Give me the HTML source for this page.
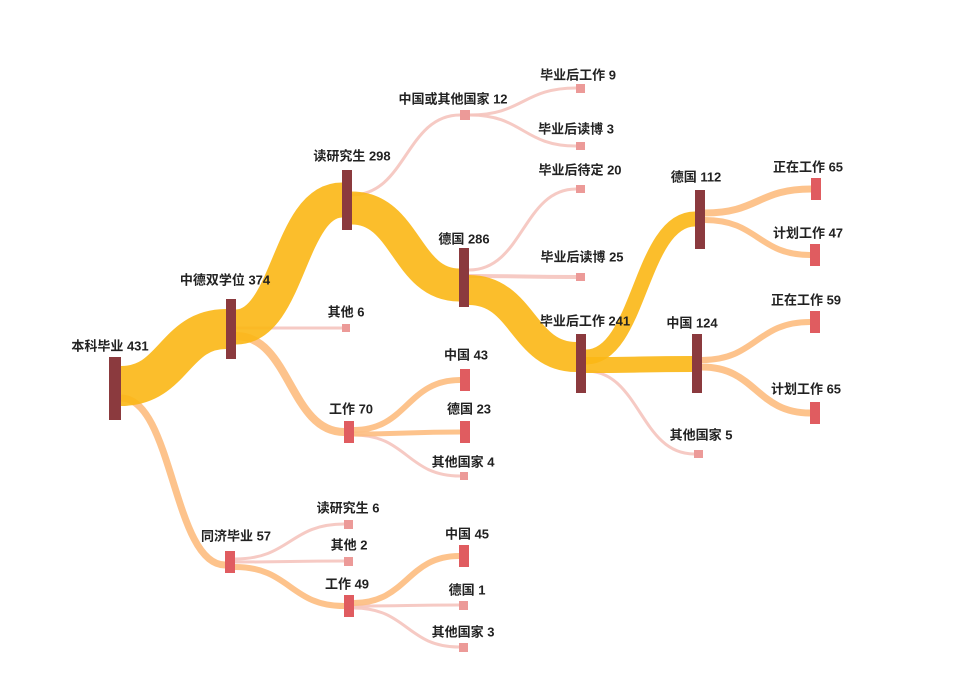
<!DOCTYPE html>
<html><head><meta charset="utf-8"><style>
html,body{margin:0;padding:0;background:#fff;}
svg{display:block;}
text{font-family:"Liberation Sans","Noto Sans CJK SC",sans-serif;font-size:13px;font-weight:bold;fill:#222;text-anchor:middle;dominant-baseline:middle;}
</style></head><body>
<svg width="953" height="691" viewBox="0 0 953 691" xmlns="http://www.w3.org/2000/svg">
<g fill="none" stroke-opacity="0.9">
<!-- pink links -->
<g stroke="#f5c4be" stroke-width="3">
<path d="M236,328 C289,328 289,328 342,328"/>
<path d="M352,195 C406,195 406,115 460,115"/>
<path d="M470,115 C523,115 523,88 576,88"/>
<path d="M470,115 C523,115 523,146 576,146"/>
<path d="M469,270 C523,270 523,189 576,189"/>
<path d="M469,276 C523,276 523,277 576,277" stroke-width="4"/>
<path d="M586,371 C640,371 640,454 694,454"/>
<path d="M354,435 C407,435 407,476 460,476"/>
<path d="M235,559 C290,559 290,524 344,524"/>
<path d="M235,562 C290,562 290,561 344,561"/>
<path d="M354,606 C407,606 407,605 459,605"/>
<path d="M354,608 C407,608 407,647 459,647"/>
</g>
<!-- orange links -->
<g stroke="#fdbd80" stroke-width="7">
<path d="M121,398 C173,398 173,565 225,565"/>
<path d="M236,336 C290,336 290,432 344,432" stroke-width="8"/>
<path d="M354,430 C407,430 407,380 460,380" stroke-width="6"/>
<path d="M354,434 C407,434 407,432 460,432" stroke-width="5"/>
<path d="M235,567 C290,567 290,606 344,606" stroke-width="6"/>
<path d="M354,603 C407,603 407,556 459,556" stroke-width="6"/>
<path d="M705,213 C758,213 758,189 811,189"/>
<path d="M705,220 C758,220 758,255 810,255" stroke-width="6"/>
<path d="M702,360 C756,360 756,322 810,322" stroke-width="6"/>
<path d="M702,367 C756,367 756,413 810,413"/>
</g>
<!-- yellow links -->
<g stroke="#fbb715">
<path d="M121,386 C174,386 174,329 226,329" stroke-width="40"/>
<path d="M236,327 C289,327 289,200 342,200" stroke-width="35"/>
<path d="M352,208 C406,208 406,285 459,285" stroke-width="33"/>
<path d="M469,290 C523,290 523,357 576,357" stroke-width="30"/>
<path d="M586,357 C640,357 640,219 695,219" stroke-width="15"/>
<path d="M586,365 C640,365 640,364 692,364" stroke-width="16"/>
</g>
</g>
<!-- nodes -->
<g fill="#8b3a3e">
<rect x="109" y="357" width="12" height="63"/>
<rect x="226" y="299" width="10" height="60"/>
<rect x="342" y="170" width="10" height="60"/>
<rect x="459" y="248" width="10" height="59"/>
<rect x="576" y="334" width="10" height="59"/>
<rect x="695" y="190" width="10" height="59"/>
<rect x="692" y="334" width="10" height="59"/>
</g>
<g fill="#e05c60">
<rect x="811" y="178" width="10" height="22"/>
<rect x="810" y="244" width="10" height="22"/>
<rect x="810" y="311" width="10" height="22"/>
<rect x="810" y="402" width="10" height="22"/>
<rect x="460" y="369" width="10" height="22"/>
<rect x="460" y="421" width="10" height="22"/>
<rect x="344" y="421" width="10" height="22"/>
<rect x="225" y="551" width="10" height="22"/>
<rect x="344" y="595" width="10" height="22"/>
<rect x="459" y="545" width="10" height="22"/>
</g>
<g fill="#ec9a98">
<rect x="460" y="110" width="10" height="10"/>
<rect x="576" y="84" width="9" height="9"/>
<rect x="576" y="142" width="9" height="8"/>
<rect x="576" y="185" width="9" height="8"/>
<rect x="576" y="273" width="9" height="8"/>
<rect x="342" y="324" width="8" height="8"/>
<rect x="694" y="450" width="9" height="8"/>
<rect x="460" y="472" width="8" height="8"/>
<rect x="344" y="520" width="9" height="9"/>
<rect x="344" y="557" width="9" height="9"/>
<rect x="459" y="601" width="9" height="9"/>
<rect x="459" y="643" width="9" height="9"/>
</g>
<!-- labels -->
<text x="110" y="347">本科毕业 431</text>
<text x="225" y="281">中德双学位 374</text>
<text x="352" y="157">读研究生 298</text>
<text x="464" y="240">德国 286</text>
<text x="585" y="322">毕业后工作 241</text>
<text x="696" y="178">德国 112</text>
<text x="692" y="324">中国 124</text>
<text x="808" y="168">正在工作 65</text>
<text x="808" y="234">计划工作 47</text>
<text x="806" y="301">正在工作 59</text>
<text x="806" y="390">计划工作 65</text>
<text x="453" y="100">中国或其他国家 12</text>
<text x="578" y="76">毕业后工作 9</text>
<text x="576" y="130">毕业后读博 3</text>
<text x="580" y="171">毕业后待定 20</text>
<text x="582" y="258">毕业后读博 25</text>
<text x="346" y="313">其他 6</text>
<text x="466" y="356">中国 43</text>
<text x="469" y="410">德国 23</text>
<text x="351" y="410">工作 70</text>
<text x="463" y="463">其他国家 4</text>
<text x="701" y="436">其他国家 5</text>
<text x="236" y="537">同济毕业 57</text>
<text x="348" y="509">读研究生 6</text>
<text x="349" y="546">其他 2</text>
<text x="347" y="585">工作 49</text>
<text x="467" y="535">中国 45</text>
<text x="467" y="591">德国 1</text>
<text x="463" y="633">其他国家 3</text>
</svg>
</body></html>
